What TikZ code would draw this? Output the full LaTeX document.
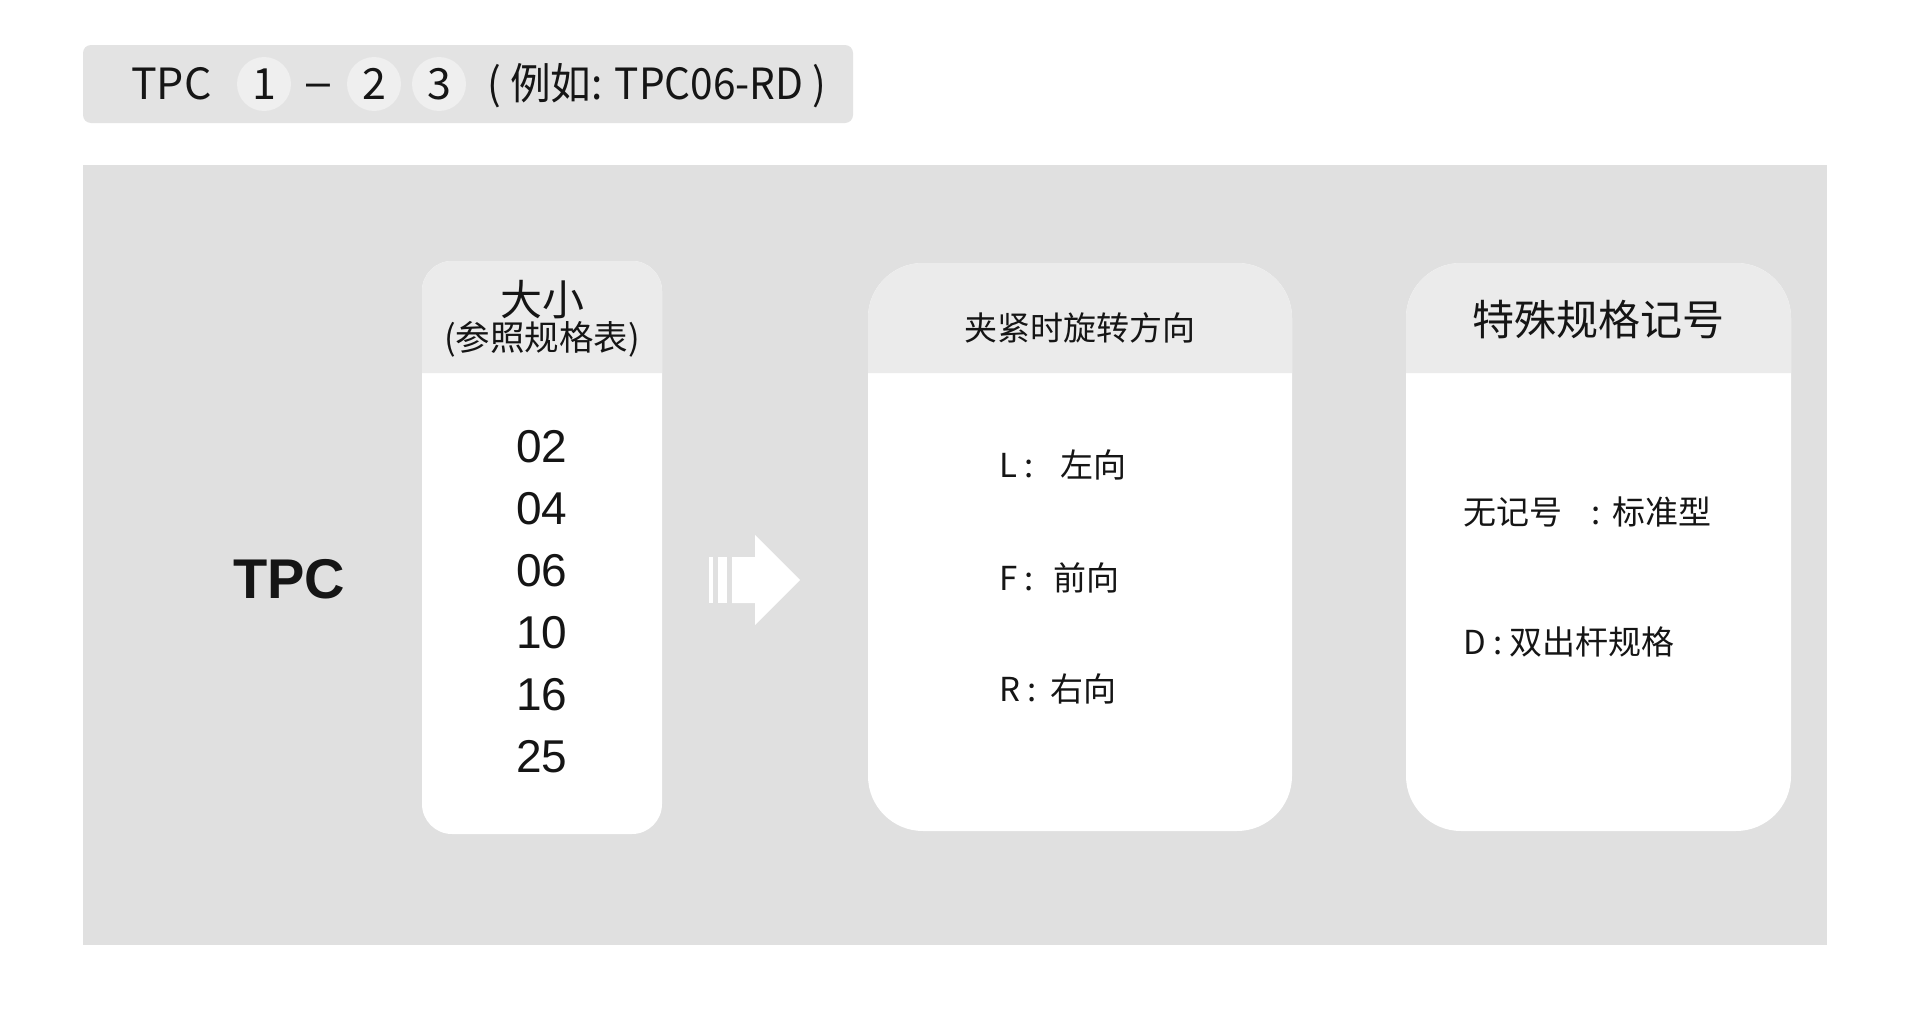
\documentclass[tikz,border=0pt]{standalone}
\usepackage{fontspec}
\setmainfont{Noto Sans CJK SC}
\newfontfamily\arialfont{Liberation Sans}
\newfontfamily\narrowfont{Noto Sans CJK SC}[FakeStretch=0.945]
\usetikzlibrary{positioning}
\definecolor{panelgray}{HTML}{E0E0E0}
\definecolor{headgray}{HTML}{EBEBEB}
\definecolor{bargray}{HTML}{E3E3E3}
\definecolor{dotgray}{HTML}{EFEFEF}
\definecolor{ink}{HTML}{151515}
\def\card(#1,#2,#3,#4,#5,#6){ \fill[white,rounded corners=#6] (#1,#2) rectangle (#3,#4); \fill[headgray] (#1,#5) [rounded corners=#6] -- (#1,#2) -- (#3,#2) [sharp corners] -- (#3,#5) -- cycle }
\tikzstyle{code} = [inner sep=0pt, text=ink, font=\fontsize{43}{48}\selectfont]
\tikzstyle{dot} = [circle, fill=dotgray, minimum size=54pt, inner sep=0pt, text=ink, font=\fontsize{43}{48}\selectfont]
\tikzstyle{num} = [inner sep=0pt, text=ink, font=\arialfont\fontsize{46}{50}\selectfont]
\tikzstyle{head} = [inner sep=0pt, text=ink, font=\fontsize{42}{46}\selectfont]
\tikzstyle{sub} = [inner sep=0pt, text=ink, font=\fontsize{33}{38}\selectfont]
\tikzstyle{item} = [inner sep=0pt, anchor=west, text=ink, font=\fontsize{33}{38}\selectfont]

\begin{document}
\begin{tikzpicture}[x=1pt, y=-1pt, node distance=62pt]
    \useasboundingbox (0,0) rectangle (1920,1020);
    \fill[white] (0,0) rectangle (1920,1020);

    \fill[bargray, rounded corners=8pt] (83,45) rectangle (853,123);
    \node[code, anchor=base west] (tpc) at (131,99) {TPC};
    \node[dot] (d1) at (264,84) {1};
    \node[code, anchor=base, font=\arialfont\fontsize{43}{48}\selectfont] (dash) at (318,96) {–};
    \node[dot] (d2) at (374,84) {2};
    \node[dot] (d3) at (439,84) {3};
    \node[code, anchor=base west, font=\narrowfont\fontsize{43}{48}\selectfont] (eg) at (487,99) {( 例如: TPC06-RD )};

    \fill[panelgray] (83,165) rectangle (1827,945);
    \card(422,261,662,834,373,30pt);
    \card(868,263,1292,831,373,55pt);
    \card(1406,263,1791,831,373,55pt);

    \node[inner sep=0pt, text=ink, font=\arialfont\bfseries\fontsize{56}{60}\selectfont] (model) at (289,579) {TPC};

    \node[head] (size) at (542,300) {大小};
    \node[sub, font=\fontsize{34.5}{38}\selectfont] (sizeref) at (542,339) {(参照规格表)};
    \node[num] (s02) at (542,447) {02};
    \node[num, below of=s02] (s04) {04};
    \node[num, below of=s04] (s06) {06};
    \node[num, below of=s06] (s10) {10};
    \node[num, below of=s10] (s16) {16};
    \node[num, below of=s16] (s25) {25};

    \fill[white] (709,557) rectangle (713,603);
    \fill[white] (718,557) rectangle (727,603);
    \fill[white] (732,557) -- (755,557) -- (755,535) -- (800,580) -- (755,625) -- (755,603) -- (732,603) -- cycle;

    \node[sub] (dir) at (1080,328) {夹紧时旋转方向};
    \node[item] (left) at (999,465) {L :\hspace{27pt}左向};
    \node[item] (front) at (999,578) {F :\hspace{20pt}前向};
    \node[item] (right) at (999,689) {R :\hspace{14pt}右向};

    \node[head] (spec) at (1598,320) {特殊规格记号};
    \node[item] (std) at (1463,512) {无记号\hspace{0.9em}:\hspace{0.35em}标准型};
    \node[item] (dbl) at (1463,642) {D : 双出杆规格};
\end{tikzpicture}
\end{document}
